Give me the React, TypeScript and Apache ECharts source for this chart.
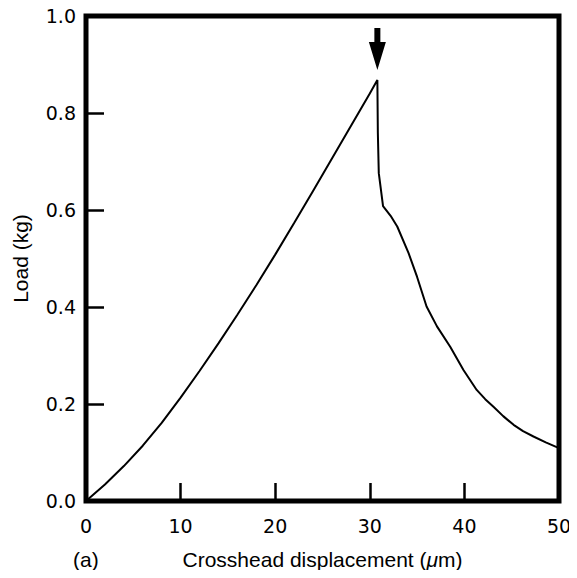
import React, { useEffect, useRef } from "react";
import * as echarts from "echarts";

// Load vs crosshead displacement
const displacement = [
  0, 2, 4, 6, 8, 10, 12, 14, 16, 18, 20, 22, 24, 26, 28, 30, 30.8,
  30.85, 30.95, 31.4, 32.2, 32.9, 34.1, 35.0, 36.0, 37.1, 38.5, 39.9, 41.3, 42.2, 43.1, 44.1,
  45.2, 46.2, 47.3, 48.6, 50.0,
];
const load = [
  0, 0.034, 0.072, 0.114, 0.161, 0.213, 0.268, 0.325, 0.384, 0.445, 0.508, 0.573, 0.639, 0.706,
  0.773, 0.84, 0.868,
  0.76, 0.676, 0.608, 0.588, 0.566, 0.511, 0.462, 0.401, 0.36, 0.318, 0.27, 0.229, 0.21, 0.194,
  0.175, 0.157, 0.144, 0.133, 0.121, 0.109,
];
const peak = [30.8, 0.868];
const xTicks = { min: 0, max: 50, interval: 10 };
const yTicks = { min: 0, max: 1, interval: 0.2 };
const xTitle = "Crosshead displacement ({i|μ}m)";
const yTitle = "Load (kg)";
const panelLabel = "(a)";

const ARROW = "path://M5.5,0 L11.5,0 L11.5,14 L17,14 L8.5,42 L0,14 L5.5,14 Z";

export default function App() {
  const ref = useRef<HTMLDivElement>(null);
  useEffect(() => {
    if (!ref.current) return;
    const chart = echarts.init(ref.current, null, { renderer: "svg" });
    const tickFont = { fontFamily: "DejaVu Sans", fontSize: 19, color: "#000" };
    const titleFont = { fontFamily: "Liberation Sans", fontSize: 21, color: "#000" };
    chart.setOption({
      animation: false,
      backgroundColor: "#fff",
      grid: {
        left: 86,
        right: 18,
        top: 16,
        bottom: 77,
        show: true,
        borderColor: "#000",
        borderWidth: 5,
        backgroundColor: "transparent",
      },
      xAxis: {
        type: "value",
        ...xTicks,
        axisLine: { show: false },
        axisTick: { show: true, inside: true, length: 18, lineStyle: { color: "#000", width: 2.5 } },
        axisLabel: { ...tickFont, margin: 15 },
        splitLine: { show: false },
        name: xTitle,
        nameLocation: "middle",
        nameGap: 48,
        nameTextStyle: {
          ...titleFont,
          rich: { i: { ...titleFont, fontStyle: "italic" } },
        },
      },
      yAxis: {
        type: "value",
        ...yTicks,
        axisLine: { show: false },
        axisTick: { show: true, inside: true, length: 18, lineStyle: { color: "#000", width: 2.5 } },
        axisLabel: { ...tickFont, margin: 10, formatter: (v: number) => v.toFixed(1) },
        splitLine: { show: false },
        name: yTitle,
        nameLocation: "middle",
        nameGap: 55,
        nameTextStyle: titleFont,
      },
      graphic: [
        {
          type: "text",
          left: 73,
          top: 549,
          style: { text: panelLabel, font: "21px 'Liberation Sans'", fill: "#000" },
        },
      ],
      series: [
        {
          type: "line",
          data: displacement.map((x, i) => [x, load[i]]),
          showSymbol: false,
          smooth: false,
          lineStyle: { color: "#000", width: 2 },
          markPoint: {
            symbol: ARROW,
            symbolSize: [17, 42],
            symbolOffset: [0, -31],
            symbolKeepAspect: false,
            itemStyle: { color: "#000" },
            label: { show: false },
            data: [{ coord: peak }],
          },
        },
      ],
    });
    return () => chart.dispose();
  }, []);
  return <div ref={ref} style={{ width: 577, height: 578, margin: -8 }} />;
}
